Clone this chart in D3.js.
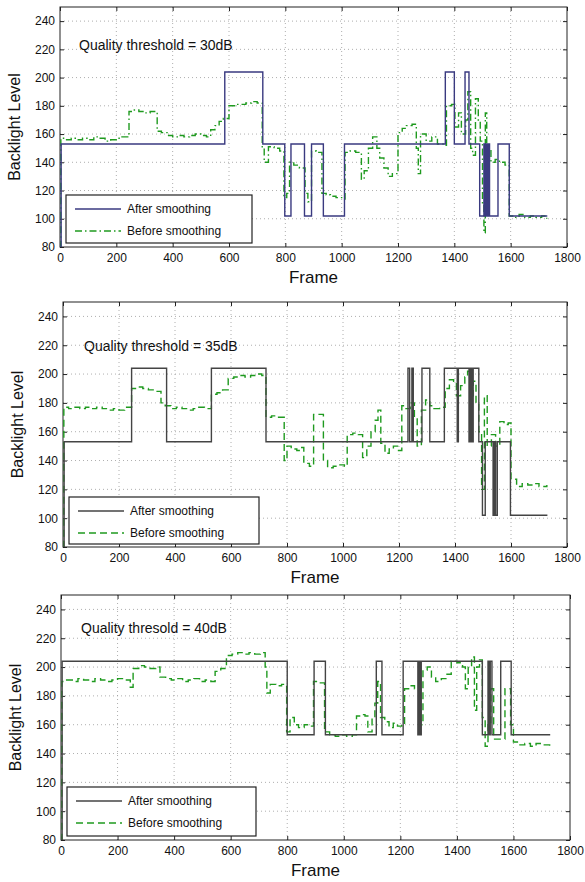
<!DOCTYPE html>
<html>
<head>
<meta charset="utf-8">
<script src="https://cdn.jsdelivr.net/npm/d3@7"></script>
<style>
  body { margin: 0; background: #fff; }
  text { font-family: "Liberation Sans", Arial, sans-serif; }
</style>
</head>
<body>
<script>
// tick values
const xTicks = [0, 200, 400, 600, 800, 1000, 1200, 1400, 1600, 1800];
const yTicks = [80, 100, 120, 140, 160, 180, 200, 220, 240];

const titles = ["Quality threshold = 30dB", "Quality threshold = 35dB", "Quality thresold = 40dB"];
const legendLabels = ["After smoothing", "Before smoothing"];

// 30 dB
const after30X = [0, 4, 585, 720, 798, 820, 868, 893, 935, 1010, 1368, 1400, 1438, 1452, 1490, 1505, 1509, 1513, 1517, 1521, 1525, 1555, 1595, 1730];
const after30Y = [80, 153, 204, 153, 102, 153, 102, 153, 102, 153, 204, 153, 204, 153, 102, 153, 102, 153, 102, 153, 102, 153, 102, 102];
const before30X = [0, 3, 20, 40, 60, 80, 100, 120, 140, 160, 180, 200, 220, 245, 260, 280, 300, 320, 345, 360, 380, 400, 420, 440, 460, 480, 500, 520, 535, 550, 565, 580, 600, 620, 640, 660, 680, 700, 718, 725, 740, 760, 780, 795, 805, 815, 830, 850, 870, 880, 893, 910, 930, 945, 960, 980, 1000, 1012, 1030, 1050, 1070, 1080, 1095, 1110, 1125, 1135, 1150, 1165, 1180, 1200, 1215, 1230, 1250, 1265, 1272, 1280, 1300, 1320, 1340, 1360, 1372, 1390, 1402, 1415, 1425, 1440, 1448, 1458, 1465, 1475, 1485, 1492, 1500, 1505, 1510, 1515, 1520, 1530, 1545, 1560, 1580, 1595, 1610, 1630, 1650, 1670, 1690, 1710, 1728];
const before30Y = [80, 157, 156, 157, 156, 157, 156, 158, 157, 155, 156, 157, 158, 176, 177, 176, 175, 176, 162, 161, 159, 158, 159, 158, 159, 160, 159, 158, 163, 166, 169, 171, 180, 181, 181, 182, 183, 182, 150, 140, 151, 150, 148, 115, 118, 140, 138, 136, 118, 112, 148, 147, 118, 117, 116, 115, 114, 147, 148, 147, 128, 134, 150, 158, 150, 143, 136, 130, 132, 161, 164, 166, 167, 150, 132, 160, 155, 158, 153, 152, 180, 181, 165, 175, 160, 170, 190, 150, 145, 185, 170, 155, 110, 90, 175, 105, 150, 140, 142, 140, 138, 102, 101, 103, 101, 102, 101, 102, 100];

// 35 dB
const after35X = [0, 4, 245, 370, 530, 725, 1232, 1238, 1246, 1251, 1282, 1310, 1362, 1408, 1412, 1450, 1455, 1460, 1465, 1485, 1498, 1508, 1536, 1541, 1545, 1551, 1598, 1730];
const after35Y = [80, 153, 204, 153, 204, 153, 204, 153, 204, 153, 204, 153, 204, 153, 204, 153, 204, 153, 204, 153, 102, 153, 102, 153, 102, 153, 102, 102];
const before35X = [0, 3, 20, 40, 60, 80, 100, 120, 140, 160, 180, 200, 220, 245, 265, 285, 305, 325, 350, 365, 385, 405, 425, 445, 465, 485, 505, 530, 550, 570, 590, 610, 630, 650, 670, 690, 710, 725, 745, 765, 790, 800, 815, 835, 850, 860, 880, 895, 915, 930, 945, 965, 985, 1005, 1015, 1035, 1055, 1070, 1085, 1100, 1115, 1125, 1135, 1150, 1165, 1180, 1195, 1210, 1225, 1240, 1255, 1265, 1280, 1295, 1310, 1325, 1345, 1365, 1380, 1395, 1405, 1420, 1435, 1445, 1455, 1465, 1475, 1485, 1495, 1505, 1515, 1530, 1545, 1560, 1575, 1590, 1600, 1620, 1640, 1660, 1680, 1700, 1728];
const before35Y = [80, 177, 176, 177, 176, 177, 176, 177, 176, 175, 176, 175, 177, 190, 191, 190, 189, 188, 180, 178, 176, 177, 176, 175, 176, 177, 176, 186, 187, 189, 197, 198, 199, 198, 199, 200, 199, 170, 171, 170, 140, 150, 148, 147, 149, 138, 136, 172, 172, 140, 135, 136, 137, 136, 158, 159, 158, 142, 150, 160, 168, 175, 152, 145, 148, 150, 147, 178, 176, 180, 170, 150, 175, 182, 178, 176, 177, 190, 196, 195, 185, 192, 198, 202, 185, 195, 180, 160, 120, 185, 150, 158, 150, 167, 165, 166, 127, 122, 124, 123, 124, 122, 123];

// 40 dB
const after40X = [0, 4, 800, 895, 935, 1115, 1135, 1210, 1262, 1266, 1270, 1274, 1490, 1510, 1514, 1518, 1524, 1555, 1592, 1730];
const after40Y = [80, 204, 153, 204, 153, 204, 153, 204, 153, 204, 153, 204, 153, 204, 153, 204, 153, 204, 153, 153];
const before40X = [0, 3, 20, 40, 60, 80, 100, 120, 140, 160, 180, 200, 220, 245, 255, 275, 295, 315, 335, 350, 370, 390, 410, 430, 450, 470, 490, 510, 530, 545, 565, 585, 605, 625, 645, 665, 685, 705, 722, 728, 740, 760, 780, 798, 810, 825, 840, 860, 880, 893, 910, 932, 950, 970, 990, 1010, 1030, 1045, 1060, 1075, 1085, 1100, 1110, 1120, 1130, 1145, 1160, 1175, 1190, 1205, 1215, 1235, 1250, 1265, 1280, 1295, 1310, 1325, 1345, 1365, 1380, 1400, 1420, 1430, 1440, 1452, 1462, 1470, 1480, 1490, 1500, 1510, 1520, 1530, 1545, 1560, 1570, 1590, 1600, 1620, 1640, 1660, 1680, 1700, 1728];
const before40Y = [80, 190, 191, 190, 192, 191, 190, 192, 191, 190, 191, 192, 191, 186, 199, 201, 200, 199, 200, 193, 192, 191, 192, 190, 191, 192, 190, 191, 190, 197, 199, 208, 209, 210, 209, 210, 209, 210, 200, 182, 188, 187, 188, 155, 165, 160, 158, 160, 159, 190, 189, 155, 153, 152, 153, 152, 153, 166, 167, 166, 155, 165, 175, 190, 165, 162, 158, 161, 159, 160, 185, 187, 185, 160, 198, 200, 193, 190, 192, 195, 204, 203, 200, 185, 200, 207, 170, 200, 205, 165, 145, 160, 185, 150, 150, 150, 185, 160, 148, 146, 147, 145, 147, 146, 145];

const panels = [
  { title: titles[0], ax: after30X, ay: after30Y, bx: before30X, by: before30Y,
    afterColor: "#3a3a80", dash: "7,3,1.5,3",
    left: 60, right: 567, top: 7, bottom: 247, titleX: 79, titleY: 50,
    legend: { x: 66, y: 195, w: 186, h: 48 } },
  { title: titles[1], ax: after35X, ay: after35Y, bx: before35X, by: before35Y,
    afterColor: "#444", dash: "7,4",
    left: 63, right: 567, top: 302, bottom: 547, titleX: 84, titleY: 351,
    legend: { x: 69, y: 497, w: 190, h: 47 } },
  { title: titles[2], ax: after40X, ay: after40Y, bx: before40X, by: before40Y,
    afterColor: "#444", dash: "7,4",
    left: 61, right: 570, top: 595, bottom: 840, titleX: 81, titleY: 633,
    legend: { x: 67, y: 787, w: 189, h: 49 } }
];

const svg = d3.select("body").append("svg")
    .attr("width", 585)
    .attr("height", 882);

panels.forEach(p => {
  const g = svg.append("g");

  const x = d3.scaleLinear().domain([0, 1800]).range([p.left, p.right]);
  const y = d3.scaleLinear().domain([80, 250]).range([p.bottom, p.top]);

  // dotted grid
  g.selectAll(".gx").data(xTicks.slice(1, -1)).enter().append("line")
      .attr("x1", d => x(d)).attr("x2", d => x(d))
      .attr("y1", p.top).attr("y2", p.bottom)
      .attr("stroke", "#999").attr("stroke-width", 0.8)
      .attr("stroke-dasharray", "1,3");
  g.selectAll(".gy").data(yTicks.slice(1)).enter().append("line")
      .attr("x1", p.left).attr("x2", p.right)
      .attr("y1", d => y(d)).attr("y2", d => y(d))
      .attr("stroke", "#999").attr("stroke-width", 0.8)
      .attr("stroke-dasharray", "1,3");

  // axes, ticks pointing inward
  const xAxis = g.append("g")
      .attr("transform", `translate(0,${p.bottom})`)
      .call(d3.axisBottom(x).tickValues(xTicks).tickSize(-4).tickPadding(6).tickFormat(d3.format("d")));
  const yAxis = g.append("g")
      .attr("transform", `translate(${p.left},0)`)
      .call(d3.axisLeft(y).tickValues(yTicks).tickSize(-4).tickPadding(5).tickFormat(d3.format("d")));
  g.append("g")
      .attr("transform", `translate(0,${p.top})`)
      .call(d3.axisTop(x).tickValues(xTicks).tickSize(-4).tickFormat(""));
  g.append("g")
      .attr("transform", `translate(${p.right},0)`)
      .call(d3.axisRight(y).tickValues(yTicks).tickSize(-4).tickFormat(""));
  g.selectAll(".domain").remove();
  g.selectAll(".tick line").attr("stroke", "#222");
  [xAxis, yAxis].forEach(a => a.selectAll("text")
      .attr("font-size", 12).attr("fill", "#111")
      .attr("font-family", "Liberation Sans, Arial, sans-serif"));

  g.append("rect")
      .attr("x", p.left).attr("y", p.top)
      .attr("width", p.right - p.left).attr("height", p.bottom - p.top)
      .attr("fill", "none").attr("stroke", "#222").attr("stroke-width", 1);

  const clipId = "clip" + p.top;
  g.append("clipPath").attr("id", clipId).append("rect")
      .attr("x", p.left).attr("y", p.top)
      .attr("width", p.right - p.left).attr("height", p.bottom - p.top);

  const line = d3.line()
      .x(d => x(d[0]))
      .y(d => y(d[1]))
      .curve(d3.curveStepAfter);

  g.append("path")
      .datum(d3.zip(p.bx, p.by))
      .attr("clip-path", `url(#${clipId})`)
      .attr("fill", "none")
      .attr("stroke", "#1f9a1f")
      .attr("stroke-width", 1.4)
      .attr("stroke-dasharray", p.dash)
      .attr("d", line);

  g.append("path")
      .datum(d3.zip(p.ax, p.ay))
      .attr("clip-path", `url(#${clipId})`)
      .attr("fill", "none")
      .attr("stroke", p.afterColor)
      .attr("stroke-width", 1.4)
      .attr("d", line);

  g.append("text")
      .attr("x", p.titleX).attr("y", p.titleY)
      .attr("font-size", 14).attr("fill", "#111")
      .text(p.title);

  // legend
  const L = p.legend;
  const lg = g.append("g").attr("transform", `translate(${L.x},${L.y})`);
  lg.append("rect")
      .attr("width", L.w).attr("height", L.h)
      .attr("fill", "#fff").attr("stroke", "#222").attr("stroke-width", 1.2);
  const rows = [
    { label: legendLabels[0], color: p.afterColor, dash: null },
    { label: legendLabels[1], color: "#1f9a1f", dash: p.dash }
  ];
  rows.forEach((r, i) => {
    const ry = 14 + i * 22;
    lg.append("line")
        .attr("x1", 9).attr("x2", 55).attr("y1", ry).attr("y2", ry)
        .attr("stroke", r.color).attr("stroke-width", 1.4)
        .attr("stroke-dasharray", r.dash);
    lg.append("text")
        .attr("x", 61).attr("y", ry + 4)
        .attr("font-size", 12).attr("fill", "#111")
        .text(r.label);
  });

  // axis labels
  g.append("text")
      .attr("x", (p.left + p.right) / 2).attr("y", p.bottom + 36)
      .attr("text-anchor", "middle")
      .attr("font-size", 17).attr("fill", "#111")
      .text("Frame");
  g.append("text")
      .attr("transform", `translate(${p.left - 40},${(p.top + p.bottom) / 2}) rotate(-90)`)
      .attr("text-anchor", "middle")
      .attr("font-size", 16).attr("fill", "#111")
      .text("Backlight Level");
});
</script>
</body>
</html>
